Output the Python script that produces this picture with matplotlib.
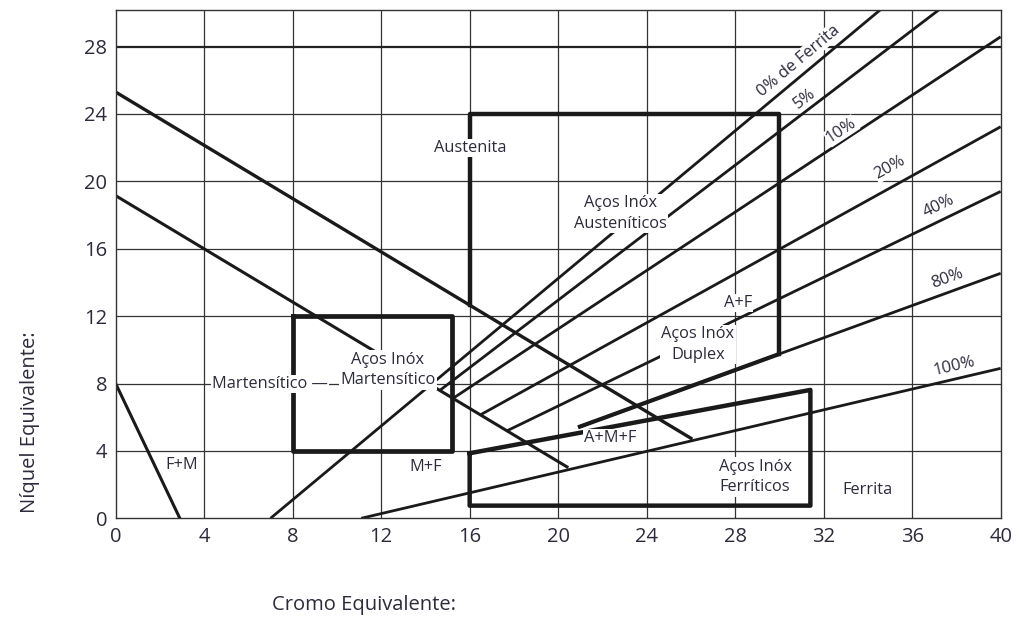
import numpy as np
import matplotlib
matplotlib.use("Agg")
import matplotlib.pyplot as plt

plt.rcParams['font.family'] = ['Open Sans', 'DejaVu Sans']

# ferrite iso-lines: start and end points (Cr eq, Ni eq)
ferrite_labels = ['0% de Ferrita', '5%', '10%', '20%', '40%', '80%', '100%']
ferrite_x0 = [7.0, 14.66, 15.26, 16.5, 17.7, 20.9, 11.1]
ferrite_y0 = [0.0, 7.6, 7.13, 6.15, 5.2, 5.4, 0.0]
ferrite_x1 = [34.55, 37.2, 40.0, 40.0, 40.0, 40.0, 40.0]
ferrite_y1 = [30.17, 30.17, 28.58, 23.24, 19.4, 14.54, 8.9]
label_x = [30.85, 31.15, 32.8, 35.0, 37.2, 37.6, 37.9]
label_y = [27.15, 24.9, 23.0, 20.8, 18.5, 14.2, 9.0]

# martensite boundaries (descending lines)
upper_line_x = [0.0, 26.0]
upper_line_y = [25.3, 4.75]
lower_line_x = [0.0, 20.4]
lower_line_y = [19.15, 3.05]
fm_line_x = [0.0, 2.9]
fm_line_y = [8.0, 0.0]

# steel family boxes
mart_box_x = [8.0, 15.2, 15.2, 8.0, 8.0]
mart_box_y = [12.0, 12.0, 4.0, 4.0, 12.0]
ferr_box_x = [16.0, 31.4, 31.4, 16.0, 16.0]
ferr_box_y = [3.86, 7.62, 0.75, 0.75, 3.86]
aust_box_x = [16.0, 16.0, 30.0, 30.0]
aust_box_y = [12.66, 24.0, 24.0, 9.78]

region_text = ['Austenita', 'Aços Inóx\nAusteníticos', 'A+F', 'Aços Inóx\nDuplex',
               'Aços Inóx\nMartensítico', 'Martensítico —', 'F+M', 'M+F', 'A+M+F',
               'Aços Inóx\nFerríticos', 'Ferrita']
region_x = [16.02, 22.8, 28.13, 26.32, 12.31, 6.98, 3.0, 14.0, 22.35, 28.9, 34.0]
region_y = [21.98, 18.1, 12.78, 10.3, 8.8, 7.97, 3.17, 3.06, 4.76, 2.45, 1.68]
region_box = [True, True, True, True, True, True, False, False, True, True, False]

ink = '#1a1a1a'
txt = '#2b2b3b'

fig = plt.figure(figsize=(10.19, 6.17), dpi=100)
ax = fig.add_axes([0.1135, 0.160, 0.8685, 0.8238])
ax.set_xlim(0, 40)
ax.set_ylim(0, 30.17)
ax.set_xticks(np.arange(0, 41, 4))
ax.set_yticks(np.arange(0, 29, 4))
ax.tick_params(length=0, labelsize=14.5, colors=txt, pad=6)
for s in ax.spines.values():
    s.set_color('#333333')
    s.set_linewidth(1.0)

for v in np.arange(4, 40, 4):
    ax.axvline(v, color='#333333', lw=0.9, zorder=1)
for h in np.arange(4, 28, 4):
    ax.axhline(h, color='#333333', lw=0.9, zorder=1)
ax.axhline(28, color='#222222', lw=1.6, zorder=1)

# ferrite lines
for i in range(len(ferrite_labels)):
    ax.plot([ferrite_x0[i], ferrite_x1[i]], [ferrite_y0[i], ferrite_y1[i]],
            color=ink, lw=2.0, zorder=2, solid_capstyle='butt')

# thick bottom of the duplex field along the 80% line
k = ferrite_labels.index('80%')
slope80 = (ferrite_y1[k] - ferrite_y0[k]) / (ferrite_x1[k] - ferrite_x0[k])
ax.plot([ferrite_x0[k], 30.0],
        [ferrite_y0[k], ferrite_y0[k] + slope80 * (30.0 - ferrite_x0[k])],
        color=ink, lw=3.0, zorder=2, solid_capstyle='butt')

ax.plot(upper_line_x, upper_line_y, color=ink, lw=2.4, zorder=2)
ax.plot(lower_line_x, lower_line_y, color=ink, lw=2.2, zorder=2)
ax.plot(fm_line_x, fm_line_y, color=ink, lw=2.2, zorder=2)

ax.plot(mart_box_x, mart_box_y, color=ink, lw=3.4, zorder=3)
ax.plot(ferr_box_x, ferr_box_y, color=ink, lw=3.2, zorder=3)
ax.plot(aust_box_x, aust_box_y, color=ink, lw=3.2, zorder=3)

# labels for ferrite lines, rotated along each line
fig.canvas.draw()
for i in range(len(ferrite_labels)):
    p0 = ax.transData.transform((ferrite_x0[i], ferrite_y0[i]))
    p1 = ax.transData.transform((ferrite_x1[i], ferrite_y1[i]))
    ang = np.degrees(np.arctan2(p1[1] - p0[1], p1[0] - p0[0]))
    ax.text(label_x[i], label_y[i], ferrite_labels[i], rotation=ang,
            rotation_mode='anchor', ha='center', va='center', fontsize=12,
            color=txt, zorder=5,
            bbox=dict(facecolor='white', edgecolor='none', pad=0.5))

for t, x, y, b in zip(region_text, region_x, region_y, region_box):
    kw = dict(ha='center', va='center', fontsize=11.8, color=txt, zorder=5,
              linespacing=1.4)
    if b:
        kw['bbox'] = dict(facecolor='white', edgecolor='none', pad=1.0)
    ax.text(x, y, t, **kw)

fig.text(0.029, 0.316, 'Níquel Equivalente:', rotation=90, ha='center',
         va='center', fontsize=14.5, color=txt)
fig.text(0.357, 0.019, 'Cromo Equivalente:', ha='center', va='center',
         fontsize=14.5, color=txt)

fig.savefig('out.png', dpi=100)
